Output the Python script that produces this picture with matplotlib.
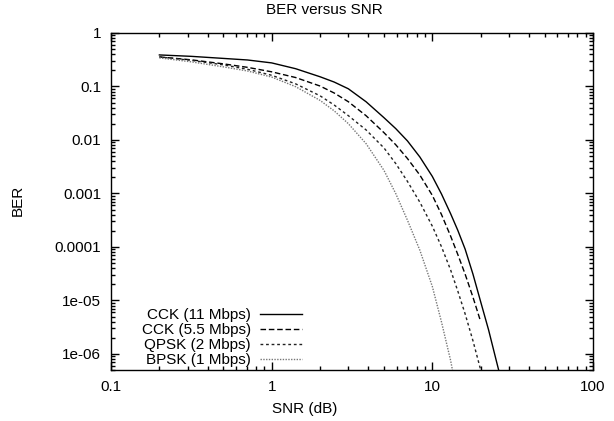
import numpy as np
import matplotlib
matplotlib.use('Agg')
import matplotlib.pyplot as plt
from matplotlib.ticker import LogLocator, NullFormatter

plt.rcParams['font.family'] = ['Liberation Sans', 'DejaVu Sans']
plt.rcParams['font.size'] = 11

# SNR sample points (dB) and BER values
snr = [0.2, 0.316, 0.5, 0.707, 1, 1.41, 2, 2.45, 3, 3.87, 5, 5.92, 7, 8.36,
       10, 11.4, 13, 14.4, 16, 17.9, 20, 22.4, 25, 27]

ber_cck11 = [0.389, 0.366, 0.335, 0.313, 0.276, 0.215, 0.152, 0.121, 0.0906,
             0.0518, 0.0261, 0.0163, 9.6e-3, 4.81e-3, 2.08e-3, 9.77e-4,
             4.17e-4, 2.05e-4, 9.1e-5, 3.1e-5, 9.4e-6, 2.8e-6, 7.5e-7, 3e-7]
ber_cck55 = [0.357, 0.315, 0.265, 0.228, 0.188, 0.147, 0.102, 0.0755, 0.0519,
             0.0284, 0.0137, 8.14e-3, 4.5e-3, 2.21e-3, 9.2e-4, 4.04e-4,
             1.59e-4, 7.24e-5, 3.1e-5, 1.15e-5, 4.0e-6]
ber_qpsk = [0.357, 0.308, 0.254, 0.21, 0.162, 0.112, 0.067, 0.045, 0.0285,
            0.0154, 7.1e-3, 3.62e-3, 1.68e-3, 6.87e-4, 2.44e-4, 1.01e-4,
            3.7e-5, 1.5e-5, 5.6e-6, 1.76e-6, 5e-7, 1e-7]
ber_bpsk = [0.343, 0.289, 0.233, 0.195, 0.150, 0.0992, 0.055, 0.035, 0.0202,
            8.53e-3, 2.7e-3, 9.93e-4, 3.16e-4, 8.7e-5, 1.82e-5, 3.96e-6,
            7.5e-7, 1.5e-7]

labels = ['CCK (11 Mbps)', 'CCK (5.5 Mbps)', 'QPSK (2 Mbps)', 'BPSK (1 Mbps)']
yticks = [1, 0.1, 0.01, 0.001, 0.0001, 1e-5, 1e-6]
ytick_labels = ['1', '0.1', '0.01', '0.001', '0.0001', '1e-05', '1e-06']
xticks = [0.1, 1, 10, 100]
xtick_labels = ['0.1', '1', '10', '100']

fig = plt.figure(figsize=(6.14, 4.21), dpi=100)
ax = fig.add_axes([111 / 614, 51 / 421, 482 / 614, 337 / 421])

ax.plot(snr[:len(ber_cck11)], ber_cck11, color='black', lw=1.0, label=labels[0])
ax.plot(snr[:len(ber_cck55)], ber_cck55, color='black', lw=1.0, dashes=(4, 2),
        label=labels[1])
ax.plot(snr[:len(ber_qpsk)], ber_qpsk, color='#222222', lw=1.0, dashes=(2, 2),
        label=labels[2])
ax.plot(snr[:len(ber_bpsk)], ber_bpsk, color='#777777', lw=1.0, dashes=(1, 1),
        label=labels[3])

ax.set_xscale('log')
ax.set_yscale('log')
ax.set_xlim(0.1, 100)
ax.set_ylim(5e-7, 1)

ax.set_xticks(xticks)
ax.set_xticklabels(xtick_labels)
ax.set_yticks(yticks)
ax.set_yticklabels(ytick_labels)
ax.xaxis.set_minor_locator(LogLocator(base=10, subs=np.arange(2, 10), numticks=20))
ax.yaxis.set_minor_locator(LogLocator(base=10, subs=np.arange(2, 10), numticks=20))
ax.xaxis.set_minor_formatter(NullFormatter())
ax.yaxis.set_minor_formatter(NullFormatter())
ax.tick_params(which='both', direction='in', top=True, right=True, width=1)
ax.tick_params(which='major', length=6, pad=7)
ax.tick_params(which='minor', length=3)
for s in ax.spines.values():
    s.set_linewidth(1)

# gnuplot centres the title and x label on the canvas, not on the plot box
fig.text(324 / 614, 1 - 10 / 421, 'BER versus SNR', ha='center', va='center')
fig.text(305 / 614, 1 - 409 / 421, 'SNR (dB)', ha='center', va='center')
fig.text(18 / 614, 1 - 200 / 421, 'BER', ha='center', va='center', rotation=90)

leg = ax.legend(loc='lower right', bbox_to_anchor=(0.396, 0.008), frameon=False,
                markerfirst=False, handlelength=2.75, handletextpad=0.6,
                labelspacing=0.07, borderpad=0, borderaxespad=0)

fig.savefig('out.png', dpi=100)
